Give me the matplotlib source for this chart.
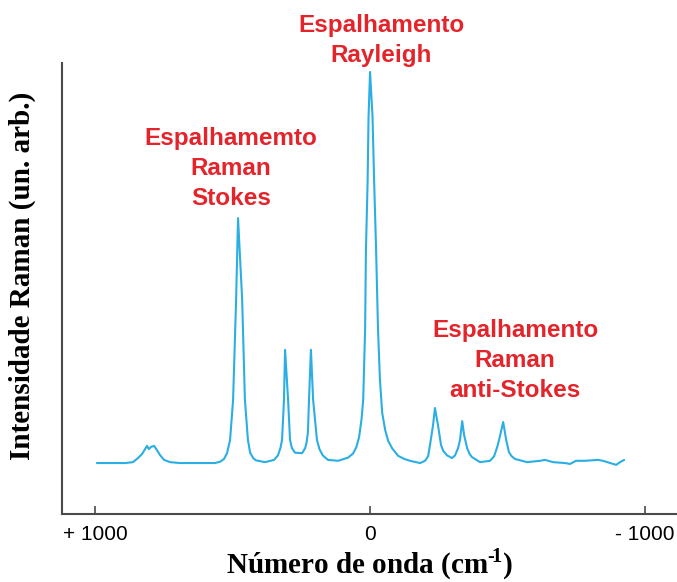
import matplotlib.pyplot as plt

plt.rcParams['mathtext.fontset'] = 'custom'
plt.rcParams['mathtext.rm'] = 'Liberation Serif:bold'
plt.rcParams['mathtext.bf'] = 'Liberation Serif:bold'

# Raman spectrum traced as (wavenumber shift in cm^-1, intensity in arb. units)
wavenumber = [993, 891, 862, 844, 829, 818, 811, 804, 796, 785, 775, 764, 749, 727, 691,
              564, 545, 531, 520, 509, 498, 487, 480, 465, 455, 444, 436, 425, 415, 382,
              349, 335, 326, 320, 313, 309, 298, 291, 284, 273, 247, 236, 231, 226, 222, 215, 207, 193,
              184, 172, 153,
              116, 80, 62, 50, 40, 31, 25, 18, 15, 9, 5.5, 0, -9, -15, -22, -29, -36, -44, -55, -66,
              -80, -102, -125, -145,
              -182, -200, -211, -218, -229, -236, -247, -258, -266, -280, -298, -309, -320, -327, -335,
              -342, -353, -362, -371, -400, -436, -451, -462, -469, -484, -495, -505, -515, -527,
              -571, -618, -636, -665, -709,
              -727, -749, -782, -829, -847, -873, -895, -909, -924]
intensity = [11.3, 11.3, 11.5, 12.4, 13.3, 14.4, 15.1, 14.4, 14.9, 15.1, 14.2, 13.1, 12.0, 11.5, 11.3,
             11.3, 11.6, 12.2, 13.5, 16.4, 25.3, 47.5, 65.6, 47.5, 25.3, 16.4, 13.6, 12.4, 11.9, 11.5,
             12.0, 13.0, 14.6, 16.4, 25.3, 36.4, 25.3, 16.4, 14.6, 13.6, 13.5, 14.6, 15.8, 18.0, 25.3, 36.4, 25.3, 16.4,
             14.4, 13.0, 12.0,
             11.8, 12.5, 13.4, 14.8, 17.0, 21.0, 25.3, 40.8, 58.5, 73.4, 88.0, 98.0, 88.0, 73.4, 58.5, 40.8, 29.7, 22.5, 18.6, 16.2,
             14.6, 12.9, 12.2, 11.8,
             11.3, 11.8, 12.8, 15.3, 19.7, 23.5, 19.7, 15.3, 14.0, 13.0, 12.4, 13.0, 14.6, 16.4, 20.6,
             17.5, 14.6, 13.3, 12.6, 11.5, 11.8, 12.8, 14.8, 16.4, 20.4, 16.4, 13.7, 12.8, 12.2,
             11.5, 11.8, 12.0, 11.5, 11.3,
             11.1, 11.8, 11.8, 12.0, 11.8, 11.3, 10.9, 11.5, 12.0]

tick_values = [1000, 0, -1000]
tick_labels = ['+ 1000', '0', '- 1000']

red = '#e3242b'
axis_color = '#4a4a4a'

fig = plt.figure(figsize=(6.77, 5.82), dpi=100)
ax = fig.add_axes([0.0916, 0.1168, 0.9084, 0.775])

ax.plot(wavenumber, intensity, color='#2aaee3', linewidth=1.5,
        solid_joinstyle='round', solid_capstyle='round')

ax.set_xlim(1120, -1116)
ax.set_ylim(0, 100)

for side in ['top', 'right']:
    ax.spines[side].set_visible(False)
for side in ['left', 'bottom']:
    ax.spines[side].set_color(axis_color)
    ax.spines[side].set_linewidth(1.5)

ax.set_yticks([])
ax.set_xticks(tick_values)
ax.set_xticklabels(tick_labels, fontsize=15, family='Liberation Sans')
ax.tick_params(axis='x', direction='in', length=6, width=1.2, color=axis_color, pad=8)

ax.set_xlabel('Número de onda (cm$^{\u2010\\!1}$)', fontsize=21, fontweight='bold',
              family='Liberation Serif')
ax.xaxis.set_label_coords(0.5, -0.071)
ax.set_ylabel('Intensidade Raman (un. arb.)', fontsize=21, fontweight='bold',
              family='Liberation Serif')
ax.yaxis.set_label_coords(-0.043, 0.528)

note = dict(color=red, fontsize=17.5, fontweight='bold', family='Liberation Sans',
            ha='center', va='center', linespacing=1.38)
fig.text(0.563, 0.931, 'Espalhamento\nRayleigh', **note)
fig.text(0.341, 0.711, 'Espalhamemto\nRaman\nStokes', **note)
fig.text(0.761, 0.380, 'Espalhamento\nRaman\nanti-Stokes', **note)

fig.savefig('out.png', dpi=100)
